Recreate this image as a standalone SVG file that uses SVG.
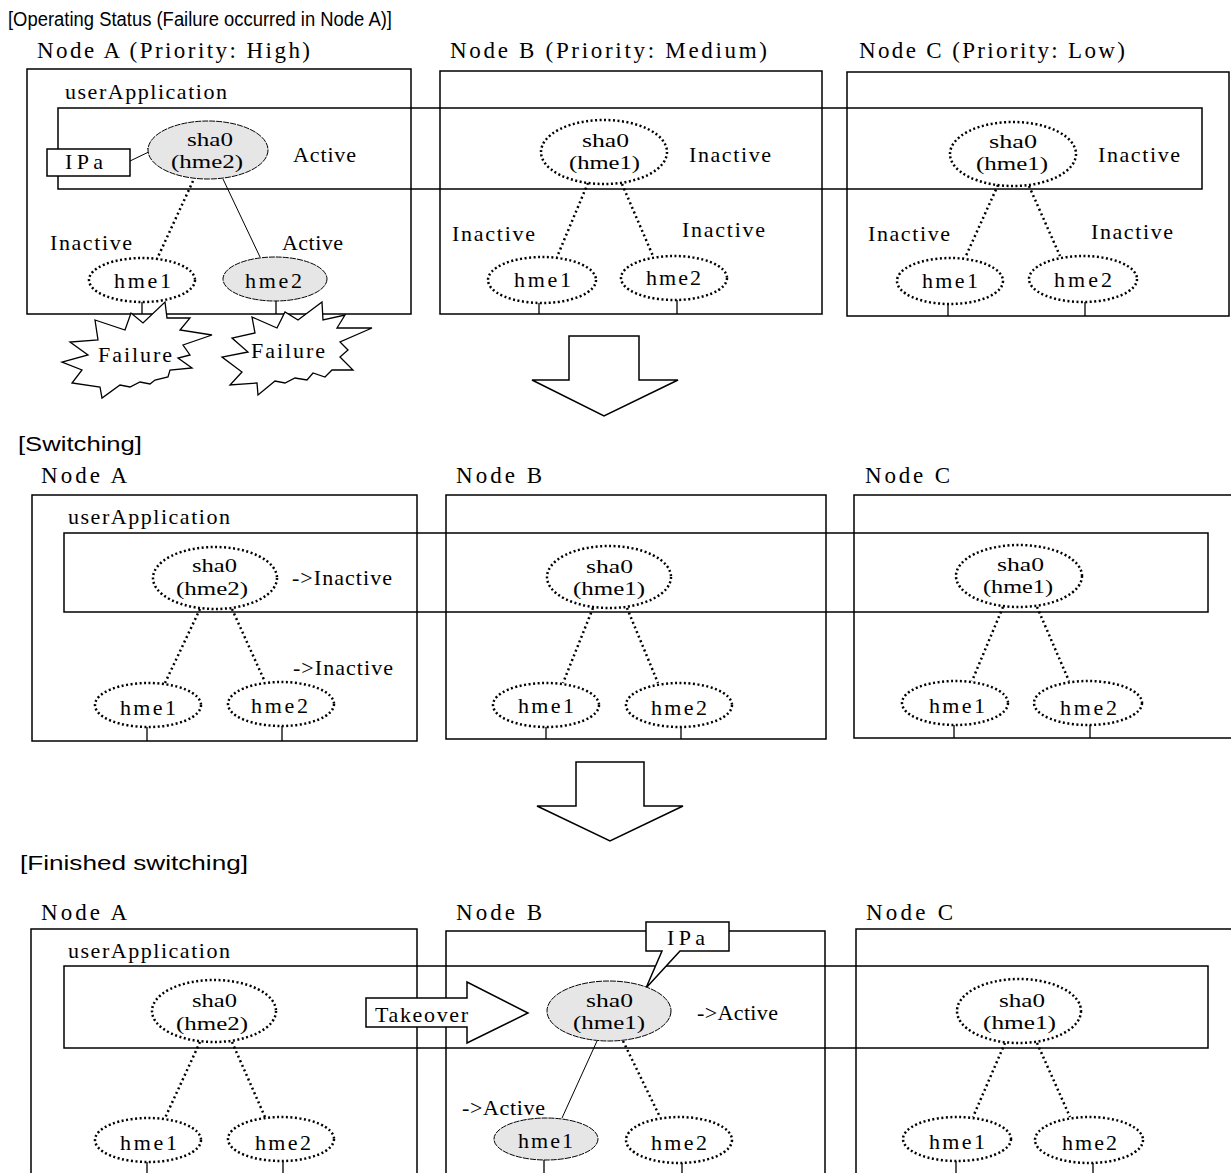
<svg xmlns="http://www.w3.org/2000/svg" width="1231" height="1173" viewBox="0 0 1231 1173">
<style>
.bg{fill:#fff}
.box{fill:none;stroke:#000;stroke-width:1.5}
.wbox{fill:#fff;stroke:#000;stroke-width:1.5}
.dot{fill:#fff;stroke:#000;stroke-width:2.5;stroke-dasharray:2 2.5}
.act{fill:#e6e6e6;stroke:#000;stroke-width:1;stroke-dasharray:6 1}
.dl{fill:none;stroke:#000;stroke-width:2.5;stroke-dasharray:2 3}
.sl{fill:none;stroke:#000;stroke-width:1}
.tk{fill:none;stroke:#000;stroke-width:1.3}
.star{fill:#fff;stroke:#000;stroke-width:1.3;stroke-linejoin:miter}
.t{font-family:"Liberation Serif",serif;font-size:22px;fill:#000}
.e{font-family:"Liberation Serif",serif;font-size:18px;fill:#000}
.n{font-family:"Liberation Serif",serif;font-size:23px;fill:#000}
.h{font-family:"Liberation Sans",sans-serif;font-size:20px;fill:#000}
</style>
<defs>
<marker id="ah" markerWidth="10" markerHeight="8" refX="9" refY="4" orient="auto" markerUnits="userSpaceOnUse">
<path d="M0,0 L9,4 L0,8" fill="none" stroke="#000" stroke-width="1"/>
</marker>
</defs>
<rect class="bg" x="0" y="0" width="1231" height="1173"/>

<!-- Section titles -->
<text class="h" x="8" y="26" textLength="384" lengthAdjust="spacingAndGlyphs">[Operating Status (Failure occurred in Node A)]</text>
<text class="h" x="18" y="451" textLength="124" lengthAdjust="spacingAndGlyphs">[Switching]</text>
<text class="h" x="20" y="870" textLength="228" lengthAdjust="spacingAndGlyphs">[Finished switching]</text>

<!-- ===== Section 1 ===== -->
<g id="s1-nodeA">
<rect class="box" x="27" y="69" width="384" height="245"/>
<text class="n" x="37" y="58" textLength="273" lengthAdjust="spacing">Node A (Priority: High)</text>
<text class="t" x="65" y="99" textLength="162" lengthAdjust="spacing">userApplication</text>
</g>
<g id="s1-nodeB">
<rect class="box" x="440" y="71" width="382" height="243"/>
<text class="n" x="450" y="58" textLength="317" lengthAdjust="spacing">Node B (Priority: Medium)</text>
</g>
<g id="s1-nodeC">
<rect class="box" x="847" y="72" width="382" height="244"/>
<text class="n" x="859" y="58" textLength="266" lengthAdjust="spacing">Node C (Priority: Low)</text>
</g>
<g id="s1-userApplication">
<rect class="box" x="58" y="108" width="1144" height="81"/>
</g>

<!-- ===== Section 2 ===== -->
<g id="s2-nodeA">
<rect class="box" x="32" y="495" width="385" height="246"/>
<text class="n" x="41" y="483" textLength="86" lengthAdjust="spacing">Node A</text>
<text class="t" x="68" y="524" textLength="162" lengthAdjust="spacing">userApplication</text>
</g>
<g id="s2-nodeB">
<rect class="box" x="446" y="495" width="380" height="244"/>
<text class="n" x="456" y="483" textLength="86" lengthAdjust="spacing">Node B</text>
</g>
<g id="s2-nodeC">
<rect class="box" x="854" y="495" width="400" height="243"/>
<text class="n" x="865" y="483" textLength="85" lengthAdjust="spacing">Node C</text>
</g>
<g id="s2-userApplication">
<rect class="box" x="64" y="533" width="1144" height="79"/>
</g>

<!-- ===== Section 3 ===== -->
<g id="s3-nodeA">
<rect class="box" x="31" y="929" width="386" height="260"/>
<text class="n" x="41" y="920" textLength="86" lengthAdjust="spacing">Node A</text>
<text class="t" x="68" y="958" textLength="162" lengthAdjust="spacing">userApplication</text>
</g>
<g id="s3-nodeB">
<rect class="box" x="446" y="931" width="379" height="260"/>
<text class="n" x="456" y="920" textLength="86" lengthAdjust="spacing">Node B</text>
</g>
<g id="s3-nodeC">
<rect class="box" x="856" y="929" width="400" height="260"/>
<text class="n" x="866" y="920" textLength="87" lengthAdjust="spacing">Node C</text>
</g>
<g id="s3-userApplication">
<rect class="box" x="64" y="966" width="1144" height="82"/>
</g>

<!-- ===== Connectors ===== -->
<g id="connectors">
<!-- section 1 -->
<line class="dl" x1="193" y1="181" x2="157" y2="259"/>
<line class="sl" x1="223" y1="179" x2="260" y2="257"/>
<line class="dl" x1="588" y1="183" x2="557" y2="257"/>
<line class="dl" x1="622" y1="184" x2="653" y2="256"/>
<line class="dl" x1="998" y1="185" x2="965" y2="258"/>
<line class="dl" x1="1029" y1="186" x2="1060" y2="256"/>
<line class="tk" x1="142" y1="302" x2="142" y2="314"/>
<line class="tk" x1="276" y1="301" x2="276" y2="314"/>
<line class="tk" x1="539" y1="303" x2="539" y2="314"/>
<line class="tk" x1="677" y1="300" x2="677" y2="314"/>
<line class="tk" x1="948" y1="304" x2="948" y2="316"/>
<line class="tk" x1="1085" y1="302" x2="1085" y2="316"/>
<line class="sl" x1="130" y1="161" x2="157" y2="148" marker-end="url(#ah)"/>
<!-- section 2 -->
<line class="dl" x1="200" y1="609" x2="165" y2="683"/>
<line class="dl" x1="232" y1="609" x2="265" y2="682"/>
<line class="dl" x1="593" y1="608" x2="563" y2="683"/>
<line class="dl" x1="627" y1="608" x2="658" y2="683"/>
<line class="dl" x1="1003" y1="607" x2="972" y2="681"/>
<line class="dl" x1="1037" y1="607" x2="1069" y2="681"/>
<line class="tk" x1="147" y1="727" x2="147" y2="741"/>
<line class="tk" x1="282" y1="726" x2="282" y2="741"/>
<line class="tk" x1="546" y1="727" x2="546" y2="739"/>
<line class="tk" x1="681" y1="727" x2="681" y2="739"/>
<line class="tk" x1="954" y1="725" x2="954" y2="738"/>
<line class="tk" x1="1090" y1="725" x2="1090" y2="738"/>
<!-- section 3 -->
<line class="dl" x1="200" y1="1042" x2="165" y2="1118"/>
<line class="dl" x1="232" y1="1042" x2="265" y2="1117"/>
<line class="sl" x1="597" y1="1041" x2="562" y2="1118"/>
<line class="dl" x1="623" y1="1041" x2="660" y2="1117"/>
<line class="dl" x1="1005" y1="1043" x2="973" y2="1117"/>
<line class="dl" x1="1037" y1="1043" x2="1070" y2="1117"/>
<line class="tk" x1="147" y1="1162" x2="147" y2="1173"/>
<line class="tk" x1="283" y1="1161" x2="283" y2="1173"/>
<line class="tk" x1="544" y1="1160" x2="544" y2="1173"/>
<line class="tk" x1="682" y1="1163" x2="682" y2="1173"/>
<line class="tk" x1="956" y1="1161" x2="956" y2="1173"/>
<line class="tk" x1="1093" y1="1163" x2="1093" y2="1173"/>
</g>

<!-- ===== Section 1 interfaces ===== -->
<g id="s1-IPa">
<rect class="wbox" x="47" y="149" width="83" height="27"/>
<text class="t" x="65" y="169" textLength="38" lengthAdjust="spacing">IPa</text>
</g>
<g id="s1-A-sha0">
<ellipse class="act" cx="208" cy="150" rx="60" ry="29"/>
<text class="e" x="187" y="146" textLength="46" lengthAdjust="spacingAndGlyphs">sha0</text>
<text class="e" x="171" y="168" textLength="72" lengthAdjust="spacingAndGlyphs">(hme2)</text>
<text class="t" x="293" y="162" textLength="63" lengthAdjust="spacing">Active</text>
</g>
<g id="s1-A-hme1">
<ellipse class="dot" cx="142" cy="280" rx="53" ry="22"/>
<text class="t" x="114" y="288" textLength="57" lengthAdjust="spacing">hme1</text>
<text class="t" x="50" y="250" textLength="82" lengthAdjust="spacing">Inactive</text>
</g>
<g id="s1-A-hme2">
<ellipse class="act" cx="275" cy="279" rx="52" ry="22"/>
<text class="t" x="245" y="288" textLength="57" lengthAdjust="spacing">hme2</text>
<text class="t" x="282" y="250" textLength="61" lengthAdjust="spacing">Active</text>
</g>
<g id="s1-failure1">
<polygon class="star" points="95,320 125,330 131,313 143,323 165,302 167,318 190,318 180,330 212,335 183,345 190,355 178,358 192,368 170,370 168,377 155,380 150,384 140,382 130,387 120,385 102,398 100,387 72,383 82,370 62,362 88,355 70,342 98,340"/>
<text class="t" x="98" y="362" textLength="74" lengthAdjust="spacing">Failure</text>
</g>
<g id="s1-failure2">
<polygon class="star" points="252,317 277,328 285,312 298,320 322,302 323,320 345,315 337,328 372,328 340,342 348,350 340,357 353,370 332,370 325,377 313,373 307,380 295,378 285,383 275,381 258,395 257,383 230,385 242,372 222,357 248,352 232,338 255,333"/>
<text class="t" x="251" y="358" textLength="74" lengthAdjust="spacing">Failure</text>
</g>
<g id="s1-B-sha0">
<ellipse class="dot" cx="604" cy="152" rx="63" ry="32"/>
<text class="e" x="582" y="147" textLength="47" lengthAdjust="spacingAndGlyphs">sha0</text>
<text class="e" x="569" y="169" textLength="71" lengthAdjust="spacingAndGlyphs">(hme1)</text>
<text class="t" x="689" y="162" textLength="82" lengthAdjust="spacing">Inactive</text>
</g>
<g id="s1-B-hme1">
<ellipse class="dot" cx="542" cy="280" rx="54" ry="23"/>
<text class="t" x="514" y="287" textLength="57" lengthAdjust="spacing">hme1</text>
<text class="t" x="452" y="241" textLength="83" lengthAdjust="spacing">Inactive</text>
</g>
<g id="s1-B-hme2">
<ellipse class="dot" cx="674" cy="278" rx="53" ry="22"/>
<text class="t" x="646" y="285" textLength="55" lengthAdjust="spacing">hme2</text>
<text class="t" x="682" y="237" textLength="83" lengthAdjust="spacing">Inactive</text>
</g>
<g id="s1-C-sha0">
<ellipse class="dot" cx="1013" cy="154" rx="63" ry="32"/>
<text class="e" x="989" y="148" textLength="48" lengthAdjust="spacingAndGlyphs">sha0</text>
<text class="e" x="976" y="170" textLength="72" lengthAdjust="spacingAndGlyphs">(hme1)</text>
<text class="t" x="1098" y="162" textLength="82" lengthAdjust="spacing">Inactive</text>
</g>
<g id="s1-C-hme1">
<ellipse class="dot" cx="950" cy="281" rx="53" ry="23"/>
<text class="t" x="922" y="288" textLength="56" lengthAdjust="spacing">hme1</text>
<text class="t" x="868" y="241" textLength="82" lengthAdjust="spacing">Inactive</text>
</g>
<g id="s1-C-hme2">
<ellipse class="dot" cx="1083" cy="279" rx="54" ry="23"/>
<text class="t" x="1054" y="287" textLength="58" lengthAdjust="spacing">hme2</text>
<text class="t" x="1091" y="239" textLength="82" lengthAdjust="spacing">Inactive</text>
</g>

<g id="arrow-down-1">
<polygon class="wbox" points="569,336 639,336 639,380 678,380 604,416 532,380 569,380"/>
</g>

<!-- ===== Section 2 interfaces ===== -->
<g id="s2-A-sha0">
<ellipse class="dot" cx="215" cy="578" rx="62" ry="31"/>
<text class="e" x="192" y="572" textLength="45" lengthAdjust="spacingAndGlyphs">sha0</text>
<text class="e" x="176" y="595" textLength="72" lengthAdjust="spacingAndGlyphs">(hme2)</text>
<text class="t" x="292" y="585" textLength="100" lengthAdjust="spacing">-&gt;Inactive</text>
</g>
<g id="s2-A-hme1">
<ellipse class="dot" cx="148" cy="705" rx="53" ry="22"/>
<text class="t" x="120" y="715" textLength="56" lengthAdjust="spacing">hme1</text>
</g>
<g id="s2-A-hme2">
<ellipse class="dot" cx="281" cy="704" rx="53" ry="22"/>
<text class="t" x="251" y="713" textLength="57" lengthAdjust="spacing">hme2</text>
<text class="t" x="293" y="675" textLength="100" lengthAdjust="spacing">-&gt;Inactive</text>
</g>
<g id="s2-B-sha0">
<ellipse class="dot" cx="609" cy="577" rx="62" ry="31"/>
<text class="e" x="586" y="573" textLength="47" lengthAdjust="spacingAndGlyphs">sha0</text>
<text class="e" x="573" y="595" textLength="72" lengthAdjust="spacingAndGlyphs">(hme1)</text>
</g>
<g id="s2-B-hme1">
<ellipse class="dot" cx="546" cy="705" rx="53" ry="22"/>
<text class="t" x="518" y="713" textLength="56" lengthAdjust="spacing">hme1</text>
</g>
<g id="s2-B-hme2">
<ellipse class="dot" cx="679" cy="705" rx="53" ry="22"/>
<text class="t" x="651" y="715" textLength="56" lengthAdjust="spacing">hme2</text>
</g>
<g id="s2-C-sha0">
<ellipse class="dot" cx="1019" cy="576" rx="63" ry="31"/>
<text class="e" x="997" y="571" textLength="47" lengthAdjust="spacingAndGlyphs">sha0</text>
<text class="e" x="983" y="593" textLength="70" lengthAdjust="spacingAndGlyphs">(hme1)</text>
</g>
<g id="s2-C-hme1">
<ellipse class="dot" cx="955" cy="703" rx="53" ry="22"/>
<text class="t" x="929" y="713" textLength="56" lengthAdjust="spacing">hme1</text>
</g>
<g id="s2-C-hme2">
<ellipse class="dot" cx="1088" cy="703" rx="54" ry="22"/>
<text class="t" x="1060" y="715" textLength="57" lengthAdjust="spacing">hme2</text>
</g>

<g id="arrow-down-2">
<polygon class="wbox" points="576,762 644,762 644,806 683,806 610,841 537,806 576,806"/>
</g>

<!-- ===== Section 3 interfaces ===== -->
<g id="s3-A-sha0">
<ellipse class="dot" cx="214" cy="1011" rx="62" ry="31"/>
<text class="e" x="192" y="1007" textLength="45" lengthAdjust="spacingAndGlyphs">sha0</text>
<text class="e" x="176" y="1030" textLength="72" lengthAdjust="spacingAndGlyphs">(hme2)</text>
</g>
<g id="s3-A-hme1">
<ellipse class="dot" cx="148" cy="1140" rx="53" ry="22"/>
<text class="t" x="120" y="1150" textLength="57" lengthAdjust="spacing">hme1</text>
</g>
<g id="s3-A-hme2">
<ellipse class="dot" cx="281" cy="1139" rx="53" ry="22"/>
<text class="t" x="255" y="1150" textLength="56" lengthAdjust="spacing">hme2</text>
</g>
<g id="s3-takeover">
<polygon class="wbox" points="366,998 467,998 467,982 528,1013 467,1043 467,1027 366,1027"/>
<text class="t" x="375" y="1022" textLength="93" lengthAdjust="spacing">Takeover</text>
</g>
<g id="s3-IPa">
<path class="wbox" d="M646,922 H729 V951 H680 L646,988 L662,951 H646 Z"/>
<text class="t" x="667" y="945" textLength="38" lengthAdjust="spacing">IPa</text>
</g>
<g id="s3-B-sha0">
<ellipse class="act" cx="609" cy="1011" rx="62" ry="30"/>
<text class="e" x="586" y="1007" textLength="47" lengthAdjust="spacingAndGlyphs">sha0</text>
<text class="e" x="573" y="1029" textLength="72" lengthAdjust="spacingAndGlyphs">(hme1)</text>
<text class="t" x="697" y="1020" textLength="81" lengthAdjust="spacing">-&gt;Active</text>
</g>
<g id="s3-B-hme1">
<ellipse class="act" cx="546" cy="1139" rx="52" ry="21"/>
<text class="t" x="518" y="1148" textLength="55" lengthAdjust="spacing">hme1</text>
<text class="t" x="462" y="1115" textLength="83" lengthAdjust="spacing">-&gt;Active</text>
</g>
<g id="s3-B-hme2">
<ellipse class="dot" cx="679" cy="1140" rx="53" ry="23"/>
<text class="t" x="651" y="1150" textLength="56" lengthAdjust="spacing">hme2</text>
</g>
<g id="s3-C-sha0">
<ellipse class="dot" cx="1019" cy="1011" rx="62" ry="32"/>
<text class="e" x="999" y="1007" textLength="46" lengthAdjust="spacingAndGlyphs">sha0</text>
<text class="e" x="983" y="1029" textLength="73" lengthAdjust="spacingAndGlyphs">(hme1)</text>
</g>
<g id="s3-C-hme1">
<ellipse class="dot" cx="957" cy="1139" rx="54" ry="22"/>
<text class="t" x="929" y="1149" textLength="56" lengthAdjust="spacing">hme1</text>
</g>
<g id="s3-C-hme2">
<ellipse class="dot" cx="1089" cy="1140" rx="54" ry="23"/>
<text class="t" x="1062" y="1150" textLength="55" lengthAdjust="spacing">hme2</text>
</g>
</svg>
